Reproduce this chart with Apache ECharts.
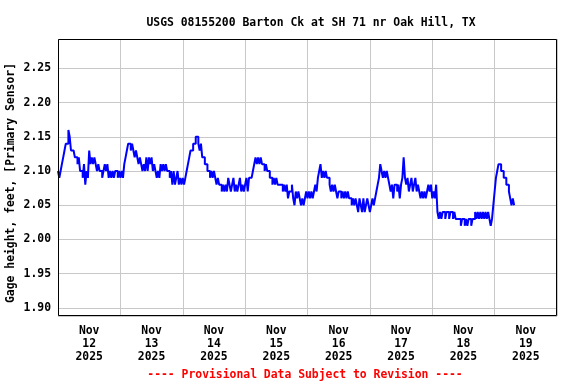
<!DOCTYPE html>
<html>
<head>
<meta charset="utf-8">
<script src="https://cdn.jsdelivr.net/npm/echarts@6/dist/echarts.min.js"></script>
<style>
html,body{margin:0;padding:0;background:#fff;}
#c{width:576px;height:384px;}
</style>
</head>
<body>
<div id="c"></div>
<script>
// Gage height (ft), every 30 minutes starting Nov 12 2025 00:00
const startLabel = 'Nov 12 2025 00:00';
const stepHours = 0.5;
const stage = [
2.10,2.09,2.10,2.11,2.12,2.13,2.14,2.14,2.16,2.15,
2.13,2.13,2.13,2.12,2.12,2.11,2.12,2.10,2.10,2.09,
2.11,2.08,2.10,2.09,2.13,2.11,2.12,2.11,2.12,2.11,
2.10,2.11,2.10,2.10,2.09,2.10,2.11,2.10,2.11,2.09,
2.10,2.09,2.10,2.09,2.10,2.10,2.09,2.10,2.09,2.10,
2.09,2.11,2.12,2.13,2.14,2.14,2.13,2.14,2.13,2.12,
2.13,2.12,2.11,2.12,2.11,2.10,2.11,2.10,2.12,2.10,
2.12,2.11,2.12,2.10,2.11,2.10,2.09,2.10,2.09,2.11,
2.10,2.11,2.10,2.11,2.10,2.10,2.09,2.10,2.08,2.10,
2.08,2.09,2.10,2.08,2.09,2.08,2.09,2.08,2.09,2.10,
2.11,2.12,2.13,2.13,2.14,2.14,2.15,2.15,2.14,2.13,
2.14,2.12,2.12,2.11,2.11,2.10,2.10,2.09,2.10,2.09,
2.10,2.09,2.08,2.09,2.08,2.08,2.07,2.08,2.07,2.08,
2.07,2.09,2.08,2.07,2.08,2.09,2.07,2.08,2.07,2.08,
2.09,2.07,2.08,2.07,2.08,2.09,2.07,2.09,2.09,2.09,
2.10,2.11,2.12,2.11,2.12,2.11,2.12,2.11,2.11,2.10,
2.11,2.10,2.10,2.09,2.09,2.08,2.09,2.08,2.09,2.08,
2.08,2.08,2.08,2.07,2.08,2.07,2.08,2.06,2.07,2.07,
2.08,2.06,2.05,2.07,2.06,2.07,2.06,2.05,2.06,2.05,
2.06,2.07,2.06,2.07,2.06,2.07,2.06,2.07,2.08,2.07,
2.09,2.10,2.11,2.09,2.10,2.09,2.10,2.09,2.09,2.08,
2.07,2.08,2.07,2.08,2.07,2.06,2.07,2.07,2.06,2.07,
2.06,2.07,2.06,2.07,2.06,2.06,2.05,2.06,2.05,2.06,
2.05,2.04,2.06,2.05,2.04,2.06,2.04,2.05,2.06,2.05,
2.04,2.05,2.06,2.05,2.06,2.07,2.08,2.09,2.11,2.10,
2.09,2.10,2.09,2.10,2.09,2.08,2.07,2.08,2.06,2.08,
2.08,2.07,2.08,2.06,2.08,2.09,2.12,2.09,2.08,2.09,
2.07,2.08,2.09,2.07,2.08,2.09,2.07,2.08,2.07,2.06,
2.07,2.06,2.07,2.06,2.07,2.08,2.07,2.08,2.06,2.07,
2.06,2.08,2.04,2.03,2.04,2.03,2.04,2.04,2.03,2.04,
2.04,2.03,2.04,2.04,2.03,2.04,2.03,2.03,2.03,2.03,
2.02,2.03,2.03,2.02,2.03,2.02,2.03,2.03,2.02,2.03,
2.03,2.04,2.03,2.04,2.03,2.04,2.03,2.04,2.03,2.04,
2.03,2.04,2.03,2.02,2.03,2.05,2.07,2.09,2.10,2.11,
2.11,2.10,2.10,2.09,2.09,2.08,2.08,2.07,2.06,2.05,
2.06,2.05
];
// Day tick labels (placed at noon of each day)
const dayLabels = ['Nov\n12\n2025','Nov\n13\n2025','Nov\n14\n2025','Nov\n15\n2025','Nov\n16\n2025','Nov\n17\n2025','Nov\n18\n2025','Nov\n19\n2025'];
const titleText = 'USGS 08155200 Barton Ck at SH 71 nr Oak Hill, TX';
const yAxisTitle = 'Gage height, feet, [Primary Sensor]';
const footerText = '---- Provisional Data Subject to Revision ----';

const FONT = '"DejaVu Sans Mono", "Liberation Mono", monospace';
const labelPos = dayLabels.map((_, i) => 12 + 24 * i);
const seriesData = stage.map((v, i) => [i * stepHours, v]);

const chart = echarts.init(document.getElementById('c'), null, {renderer: 'canvas'});
chart.setOption({
  animation: false,
  backgroundColor: '#ffffff',
  title: {
    text: titleText,
    left: 306, top: 13, textAlign: 'center',
    textStyle: {fontFamily: FONT, fontSize: 11.4, fontWeight: 'bold', color: '#000'}
  },
  graphic: [
    {
      type: 'text', rotation: Math.PI / 2, x: 11, y: 183,
      style: {text: yAxisTitle, font: 'bold 11.4px ' + FONT, fill: '#000', align: 'center', verticalAlign: 'middle'}
    },
    {
      type: 'text', x: 305, y: 375,
      style: {text: footerText, font: 'bold 11.4px ' + FONT, fill: '#ff0000', align: 'center', verticalAlign: 'middle'}
    },
    {
      type: 'rect', z: 100, silent: true,
      shape: {x: 58.5, y: 39.5, width: 498, height: 276},
      style: {fill: 'none', stroke: '#000', lineWidth: 1}
    }
  ],
  grid: {left: 58, right: 19, top: 39, bottom: 68, show: false},
  xAxis: {
    type: 'value', min: 0, max: 192, interval: 24,
    axisLine: {show: false}, axisTick: {show: false},
    splitLine: {show: true, lineStyle: {color: '#c8c8c8', width: 1}},
    axisLabel: {
      customValues: labelPos,
      formatter: (v) => dayLabels[Math.round((v - 12) / 24)] || '',
      fontFamily: FONT, fontSize: 11.4, fontWeight: 'bold', color: '#000',
      lineHeight: 12.8, margin: 9
    }
  },
  yAxis: {
    type: 'value', min: 1.888, max: 2.293, splitNumber: 8,
    axisLine: {show: false}, axisTick: {show: false},
    splitLine: {show: true, lineStyle: {color: '#c8c8c8', width: 1}},
    axisLabel: {
      showMinLabel: false, showMaxLabel: false,
      formatter: (v) => v.toFixed(2),
      fontFamily: FONT, fontSize: 11.4, fontWeight: 'bold', color: '#000', margin: 7
    }
  },
  series: [{
    type: 'line', data: seriesData, step: 'end', showSymbol: false, symbol: 'none',
    lineStyle: {color: '#0000ff', width: 2}, z: 3
  }]
});
</script>
</body>
</html>
